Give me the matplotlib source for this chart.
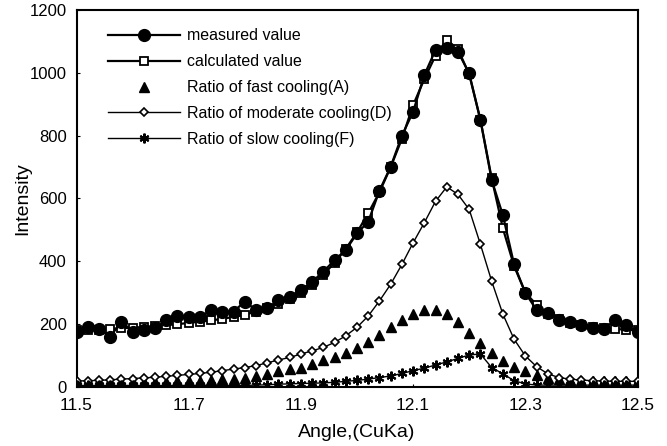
import numpy as np
import matplotlib
matplotlib.use("Agg")
import matplotlib.pyplot as plt

plt.rcParams['font.family'] = ['Liberation Sans', 'DejaVu Sans']

angle = np.round(np.arange(11.50, 12.5001, 0.02), 2)

measured = [176, 190, 184, 160, 208, 176, 181, 187, 213, 226,
            224, 222, 245, 240, 240, 272, 245, 250, 277, 287,
            309, 335, 367, 404, 436, 489, 526, 625, 701, 800,
            876, 993, 1073, 1078, 1067, 998, 850, 659, 547, 390,
            300, 245, 235, 212, 207, 198, 188, 186, 212, 198, 176]

calculated = [180, 181, 183, 185, 187, 189, 191, 194, 197, 200,
              204, 208, 212, 217, 223, 230, 240, 250, 263, 280,
              300, 325, 358, 395, 440, 492, 553, 620, 700, 790,
              897, 980, 1055, 1105, 1075, 995, 850, 665, 505, 385,
              300, 262, 232, 215, 205, 198, 192, 188, 185, 182, 180]

fast_A = [16, 16, 16, 16, 16, 16, 17, 17, 17, 18,
          19, 20, 22, 24, 27, 30, 35, 42, 50, 56,
          62, 72, 86, 97, 109, 124, 143, 167, 190, 212,
          232, 244, 244, 232, 207, 173, 140, 108, 84, 65,
          50, 38, 30, 25, 22, 20, 20, 20, 20, 20, 20]

moderate_D = [19, 20, 21, 23, 25, 27, 29, 31, 34, 37,
              40, 43, 47, 52, 57, 62, 68, 77, 86, 94,
              105, 115, 126, 142, 163, 190, 226, 274, 327, 390,
              459, 523, 591, 637, 613, 565, 454, 337, 232, 152,
              99, 65, 42, 30, 25, 22, 20, 19, 18, 18, 18]

slow_F = [5, 5, 5, 5, 5, 5, 5, 5, 5, 5,
          5, 5, 5, 5, 5, 5, 6, 7, 9, 10,
          11, 12, 13, 15, 18, 21, 25, 30, 35, 43,
          52, 60, 70, 80, 91, 102, 105, 62, 42, 20,
          10, 6, 6, 6, 6, 6, 6, 6, 6, 6, 6]

labels = ["measured value", "calculated value", "Ratio of fast cooling(A)",
          "Ratio of moderate cooling(D)", "Ratio of slow cooling(F)"]

fig = plt.figure(figsize=(6.67, 4.46), dpi=100)
ax = fig.add_axes([0.1147, 0.1323, 0.8411, 0.8453])

ax.plot(angle, measured, '-', color='black', lw=1.6, marker='o', ms=8.5,
        mfc='black', mec='black', label=labels[0], zorder=5)
ax.plot(angle, calculated, '-', color='black', lw=1.6, marker='s', ms=5.5,
        mfc='white', mec='black', mew=1.3, label=labels[1], zorder=4)
ax.plot(angle, fast_A, linestyle='none', color='black', marker='^', ms=6.5,
        mfc='black', mec='black', label=labels[2], zorder=3)
ax.plot(angle, moderate_D, '-', color='black', lw=1.0, marker='D', ms=4.5,
        mfc='white', mec='black', mew=1.2, label=labels[3], zorder=3)
ax.plot(angle, slow_F, '-', color='black', lw=1.0, marker=(6, 2, 0), ms=7,
        mec='black', mew=1.5, label=labels[4], zorder=3)

ax.set_xlim(11.5, 12.5)
ax.set_ylim(0, 1200)
ax.set_xticks([11.5, 11.7, 11.9, 12.1, 12.3, 12.5])
ax.set_xticklabels(["11.5", "11.7", "11.9", "12.1", "12.3", "12.5"])
ax.set_yticks(range(0, 1201, 200))
ax.tick_params(axis='both', length=2, direction='in')
ax.tick_params(axis='x', labelsize=12.5, pad=8)
ax.tick_params(axis='y', labelsize=12, pad=7)
for s in ax.spines.values():
    s.set_linewidth(1.5)

ax.set_xlabel("Angle,(CuKa)", fontsize=14, labelpad=8)
ax.set_ylabel("Intensity", fontsize=14, labelpad=-1)

leg = ax.legend(loc='upper left', bbox_to_anchor=(0.045, 0.968), frameon=False,
                fontsize=11.5, handlelength=4.5, handletextpad=0.45,
                labelspacing=0.68, borderaxespad=0)

fig.savefig("out.png", dpi=100)
